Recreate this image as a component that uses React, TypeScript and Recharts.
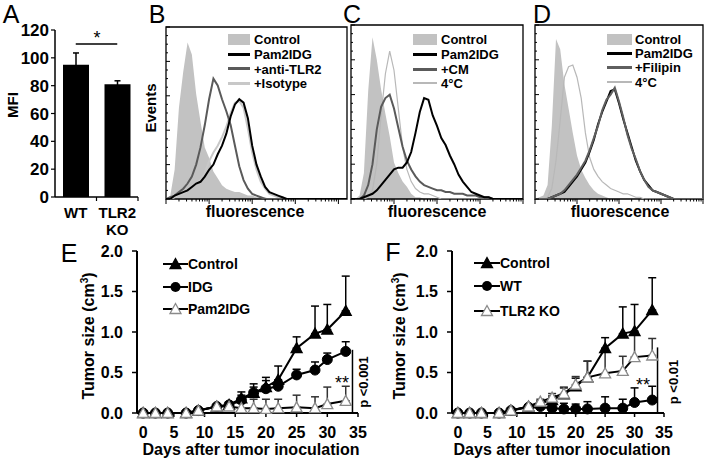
import React from "react";
import {
  BarChart,
  Bar,
  ComposedChart,
  Area,
  Line,
  LineChart,
  XAxis,
  YAxis,
  ErrorBar,
  ReferenceLine,
  ReferenceArea,
} from "recharts";

const FONT = "'Liberation Sans', Arial, Helvetica, sans-serif";

// ---- A: MFI bars
const mfiGroups = ["WT", "TLR2 KO"];
const mfiValues = [95, 81];
const mfiErrors = [8.5, 2.5];
const mfiTicks = [0, 20, 40, 60, 80, 100, 120];

// ---- B-D: flow histograms, x = log10 fluorescence, y = % of max events
const fluorBins = [
  0, 0.1, 0.2, 0.3, 0.4, 0.5, 0.6, 0.7, 0.8, 0.9, 1, 1.1, 1.2, 1.3, 1.4, 1.5, 1.6, 1.7, 1.8, 1.9, 2,
  2.1, 2.2, 2.3, 2.4, 2.5, 2.6, 2.7, 2.8, 2.9, 3, 3.1, 3.2, 3.3, 3.4, 3.5, 3.6, 3.7, 3.8, 3.9, 4, 4.1, 4.2,
];
const decadeStarts = [0, 1, 2, 3];
const logMinor = [0, 0.301, 0.477, 0.602, 0.699, 0.778, 0.845, 0.903, 0.954];
const eventTicks = [0, 5, 10, 15, 20, 25, 30, 35, 40, 45, 50, 55, 60, 65, 70, 75, 80, 85, 90, 95, 100];

const bControl = [0, 2, 17, 53, 74, 91, 84, 61, 45, 30, 24, 16, 12, 8, 6, 5, 4, 4, 3, 2, 2, 1, 1, 1, 0];
const bPam2 = [0, 0, 2, 3, 4, 5, 7, 9, 10, 13, 17, 20, 26, 31, 38, 48, 55, 58, 56, 47, 31, 20, 13, 7, 4, 3, 2, 1, 0];
const bAntiTlr2 = [0, 1, 2, 4, 6, 9, 13, 20, 30, 43, 58, 70, 66, 58, 51, 43, 31, 19, 11, 6, 3, 2, 1, 0];
const bIsotype = [0, 0, 1, 2, 3, 5, 7, 9, 11, 15, 22, 27, 31, 36, 42, 50, 56, 57, 53, 41, 27, 17, 10, 6, 3, 2, 1, 1, 0];

const cControl = [0, 0, 2, 15, 62, 93, 80, 63, 49, 36, 21, 15, 10, 7, 3, 1, 1, 0];
const cPam2 = [0, 0, 0, 1, 2, 3, 5, 8, 11, 14, 17, 18, 18, 21, 27, 38, 50, 58, 57, 48, 42, 35, 31, 25, 20, 14, 10, 7, 4, 3, 2, 1, 1, 0];
const cCm = [0, 0, 0, 2, 8, 20, 40, 53, 58, 60, 52, 41, 30, 22, 17, 13, 10, 8, 7, 6, 5, 5, 4, 4, 3, 3, 3, 2, 2, 2, 1, 1, 1, 0];
const c4C = [0, 0, 0, 0, 1, 5, 20, 48, 72, 85, 74, 52, 30, 17, 10, 6, 4, 3, 3, 2, 1, 0];

const dControl = [0, 1, 2, 8, 42, 92, 86, 66, 52, 38, 25, 17, 12, 8, 5, 3, 2, 1, 0];
const dPam2 = [0, 0, 0, 0, 1, 2, 3, 4, 7, 10, 13, 17, 21, 27, 34, 43, 50, 56, 62, 63, 55, 46, 38, 30, 22, 16, 11, 8, 5, 4, 3, 2, 1, 0];
const dFilipin = [0, 0, 0, 0, 1, 2, 3, 5, 8, 11, 14, 18, 22, 28, 35, 42, 51, 57, 60, 64, 56, 47, 37, 29, 23, 16, 11, 7, 5, 4, 3, 2, 1, 0];
const d4C = [0, 0, 0, 1, 6, 22, 45, 70, 76, 77, 70, 58, 38, 24, 17, 13, 10, 8, 6, 5, 4, 3, 3, 2, 1, 1, 0];

// ---- E/F: tumor growth
const tumorDays = [0, 2, 4, 7, 9, 12, 14, 16, 18, 20, 22, 25, 28, 30, 33];
const dayTicks = [0, 5, 10, 15, 20, 25, 30, 35];
const sizeTicks = [0, 0.5, 1, 1.5, 2];

const eControl = [0, 0, 0, 0, 0.03, 0.08, 0.1, 0.18, 0.25, 0.32, 0.41, 0.8, 0.98, 1.03, 1.26];
const eControlErr = [0, 0, 0, 0, 0.01, 0.02, 0.03, 0.08, 0.11, 0.12, 0.17, 0.14, 0.34, 0.31, 0.43];
const eIdg = [0, 0, 0, 0, 0.03, 0.08, 0.1, 0.16, 0.25, 0.3, 0.33, 0.47, 0.53, 0.66, 0.76];
const eIdgErr = [0, 0, 0, 0, 0.01, 0.02, 0.03, 0.06, 0.07, 0.1, 0.07, 0.07, 0.1, 0.08, 0.12];
const ePam2 = [0, 0, 0, 0, 0.03, 0.08, 0.08, 0.06, 0.06, 0.05, 0.06, 0.07, 0.06, 0.11, 0.15];
const ePam2Err = [0, 0, 0, 0, 0, 0.01, 0.02, 0.06, 0.11, 0.12, 0.11, 0.15, 0.14, 0.21, 0.18];

const fControl = [0, 0, 0, 0, 0.03, 0.08, 0.12, 0.16, 0.23, 0.33, 0.44, 0.8, 0.98, 1.01, 1.27];
const fControlErr = [0, 0, 0, 0, 0.01, 0.02, 0.03, 0.05, 0.08, 0.1, 0.2, 0.13, 0.33, 0.33, 0.4];
const fWt = [0, 0, 0, 0, 0.03, 0.07, 0.08, 0.06, 0.05, 0.05, 0.05, 0.06, 0.06, 0.13, 0.16];
const fWtErr = [0, 0, 0, 0, 0, 0.01, 0.03, 0.05, 0.07, 0.06, 0.09, 0.14, 0.11, 0.18, 0.17];
const fKo = [0, 0, 0, 0, 0.03, 0.08, 0.14, 0.19, 0.24, 0.35, 0.44, 0.49, 0.52, 0.69, 0.71];
const fKoErr = [0, 0, 0, 0, 0.01, 0.02, 0.03, 0.05, 0.08, 0.1, 0.2, 0.29, 0.18, 0.3, 0.21];

const mfiData = mfiGroups.map((g, i) => ({ group: g, mfi: mfiValues[i], err: mfiErrors[i] }));

const fluorTicks = [...decadeStarts.flatMap((d) => logMinor.map((m) => d + m)), 4];

function histRows(max: number, curves: Record<string, number[]>) {
  return fluorBins
    .filter((u) => u <= max + 1e-9)
    .map((u, i) => {
      const row: any = { u };
      Object.keys(curves).forEach((k) => (row[k] = curves[k][i] ?? 0));
      return row;
    });
}

function tumorRows(series: Record<string, number[]>) {
  return tumorDays.map((day, i) => {
    const row: any = { day };
    Object.keys(series).forEach((k) => {
      row[k] = series[k][i];
    });
    return row;
  });
}

const eRows = tumorRows({ control: eControl, idg: eIdg, pam2: ePam2 }).map((r, i) => ({
  ...r,
  controlErr: [0, eControlErr[i]],
  idgErr: [0, eIdgErr[i]],
  pam2Err: [0, ePam2Err[i]],
}));
const fRows = tumorRows({ control: fControl, wt: fWt, ko: fKo }).map((r, i) => ({
  ...r,
  controlErr: [0, fControlErr[i]],
  wtErr: [0, fWtErr[i]],
  koErr: [0, fKoErr[i]],
}));

// ---------- small helpers

const Txt = ({ x, y, children, size = 16, weight = 700, rotate = 0, anchor = "middle" }: any) => (
  <div
    style={{
      position: "absolute",
      left: x,
      top: y,
      transform: `translate(${anchor === "start" ? "0" : "-50%"}, -50%) rotate(${rotate}deg)`,
      fontSize: size,
      fontWeight: weight,
      lineHeight: 1,
      whiteSpace: "nowrap",
      fontFamily: FONT,
      color: "#000",
    }}
  >
    {children}
  </div>
);

const MfiTick = (props: any) => {
  const { x, y, payload, width, visibleTicksCount } = props;
  const half = (width ?? 83) / (visibleTicksCount ?? 2) / 2;
  const parts = String(payload.value).split(" ");
  return (
    <g>
      <line x1={x + half} x2={x + half} y1={y} y2={y + 4} stroke="#000" strokeWidth={1.2} />
      {parts.map((p, i) => (
        <text key={p} x={x} y={y + 21 + i * 17} textAnchor="middle" fontSize={15} fontWeight={700} fill="#000" fontFamily={FONT}>
          {p}
        </text>
      ))}
    </g>
  );
};

const LogTick = (props: any) => {
  const { x, y, payload } = props;
  const major = Math.abs(payload.value - Math.round(payload.value)) < 0.001;
  return <line x1={x} x2={x} y1={y} y2={y + (major ? 5 : 2.5)} stroke="#000" strokeWidth={1} />;
};

const EventTick = (props: any) => {
  const { x, y, payload } = props;
  const major = payload.value % 20 === 0;
  return <line x1={x} x2={x + (major ? 4 : 2)} y1={y} y2={y} stroke="#000" strokeWidth={1} />;
};

const triDot = (fill: string, stroke: string) => (p: any) => {
  const { cx, cy, key } = p;
  if (cx == null || cy == null) return <g key={key} />;
  return (
    <polygon
      key={key}
      points={`${cx},${cy - 5.5} ${cx - 5.5},${cy + 4.5} ${cx + 5.5},${cy + 4.5}`}
      fill={fill}
      stroke={stroke}
      strokeWidth={1.3}
    />
  );
};
const circleDot = (p: any) => {
  const { cx, cy, key } = p;
  if (cx == null || cy == null) return <g key={key} />;
  return <circle key={key} cx={cx} cy={cy} r={5} fill="#000" stroke="#000" />;
};

type FluorSeries = { key: string; color: string; width: number };

function FluorPanel({ left, width, plotLeft, plotTop, plotRight, xMax, rows, lines }: any) {
  return (
    <div style={{ position: "absolute", left, top: 0 }}>
      <ComposedChart
        width={width}
        height={210}
        data={rows}
        margin={{ top: plotTop, right: width - plotRight, bottom: 0, left: plotLeft - 1 }}
      >
        <XAxis
          type="number"
          dataKey="u"
          domain={[0, xMax]}
          ticks={fluorTicks}
          interval={0}
          height={11}
          tickSize={0}
          tickMargin={0}
          tickLine={false}
          axisLine={false}
          tick={<LogTick />}
          allowDataOverflow
        />
        <YAxis
          type="number"
          domain={[0, 100]}
          ticks={eventTicks}
          interval={0}
          width={1}
          tickSize={0}
          tickMargin={0}
          tickLine={false}
          axisLine={false}
          tick={<EventTick />}
          allowDataOverflow
        />
        <Area dataKey="control" type="linear" fill="#c2c2c2" fillOpacity={1} stroke="none" isAnimationActive={false} />
        {lines.map((s: FluorSeries) => (
          <Line
            key={s.key}
            dataKey={s.key}
            type="linear"
            stroke={s.color}
            strokeWidth={s.width}
            dot={false}
            activeDot={false}
            isAnimationActive={false}
          />
        ))}
        <ReferenceArea x1={0} x2={xMax} y1={0} y2={100} fill="none" stroke="#000" strokeWidth={1.3} ifOverflow="visible" />
      </ComposedChart>
    </div>
  );
}

function FluorLegend({ x, w, textX, rows, items }: any) {
  return (
    <>
      {items.map((it: any, i: number) => (
        <React.Fragment key={it.label}>
          <div
            style={{
              position: "absolute",
              left: x,
              top: rows[i] - it.h / 2,
              width: w,
              height: it.h,
              background: it.color,
            }}
          />
          <Txt x={textX} y={rows[i]} anchor="start" size={13}>
            {it.label}
          </Txt>
        </React.Fragment>
      ))}
    </>
  );
}

function SeriesLegend({ x, textX, rows, items }: any) {
  const w = textX - x;
  return (
    <>
      {items.map((it: any, i: number) => (
        <React.Fragment key={it.label}>
          <svg style={{ position: "absolute", left: x, top: rows[i] - 7 }} width={w} height={14}>
            <line x1={0} x2={w} y1={7} y2={7} stroke="#000" strokeWidth={2} />
            {it.marker === "circle" ? (
              <circle cx={w / 2} cy={7} r={5} fill="#000" />
            ) : (
              <polygon
                points={`${w / 2},${1.5} ${w / 2 - 5.5},${11.5} ${w / 2 + 5.5},${11.5}`}
                fill={it.marker === "triOpen" ? "#fff" : "#000"}
                stroke={it.marker === "triOpen" ? "#8a8a8a" : "#000"}
                strokeWidth={1.3}
              />
            )}
          </svg>
          <Txt x={textX} y={rows[i]} anchor="start" size={14}>
            {it.label}
          </Txt>
        </React.Fragment>
      ))}
    </>
  );
}

function TumorPanel({ left, width, axisWidth, plotRight, rows, series, bracket }: any) {
  const axisStyle = { stroke: "#000", strokeWidth: 2 };
  return (
    <div style={{ position: "absolute", left, top: 240 }}>
      <LineChart width={width} height={222} data={rows} margin={{ top: 11, right: width - plotRight, bottom: 0, left: 0 }}>
        <XAxis
          type="number"
          dataKey="day"
          domain={[-1, 35]}
          ticks={dayTicks}
          interval={0}
          height={49}
          tickSize={4}
          tickMargin={10}
          axisLine={axisStyle}
          tickLine={{ stroke: "#000", strokeWidth: 1.5 }}
          tick={{ fill: "#000", fontSize: 16, fontWeight: 700, fontFamily: FONT }}
        />
        <YAxis
          type="number"
          domain={[0, 2]}
          ticks={sizeTicks}
          interval={0}
          width={axisWidth}
          tickSize={5}
          tickMargin={9}
          tickFormatter={(v: number) => v.toFixed(1)}
          axisLine={axisStyle}
          tickLine={{ stroke: "#000", strokeWidth: 1.5 }}
          tick={{ fill: "#000", fontSize: 16, fontWeight: 700, fontFamily: FONT }}
        />
        <ReferenceLine segment={bracket} stroke="#000" strokeWidth={1.5} />
        {series.map((s: any) => (
          <Line
            key={s.key}
            dataKey={s.key}
            type="linear"
            stroke="#000"
            strokeWidth={2}
            dot={s.dot}
            activeDot={false}
            isAnimationActive={false}
          >
            <ErrorBar dataKey={s.key + "Err"} direction="y" width={4} stroke={s.errColor} strokeWidth={1.5} />
          </Line>
        ))}
      </LineChart>
    </div>
  );
}

export default function App() {
  const bRows = histRows(4.2, { control: bControl, iso: bIsotype, anti: bAntiTlr2, pam2: bPam2 });
  const cRows = histRows(4, { control: cControl, cold: c4C, cm: cCm, pam2: cPam2 });
  const dRows = histRows(4, { control: dControl, cold: d4C, pam2: dPam2, fil: dFilipin });

  return (
    <div
      style={{
        position: "absolute",
        left: 0,
        top: 0,
        width: 711,
        height: 462,
        background: "#fff",
        overflow: "hidden",
        fontFamily: FONT,
      }}
    >
      {/* A */}
      <div style={{ position: "absolute", left: 0, top: 0 }}>
        <BarChart width={145} height={240} data={mfiData} margin={{ top: 30, right: 7, bottom: 0, left: 0 }} barSize={26}>
          <XAxis
            dataKey="group"
            height={43}
            tickSize={0}
            tickMargin={0}
            tickLine={false}
            interval={0}
            axisLine={{ stroke: "#000", strokeWidth: 1.5 }}
            tick={<MfiTick />}
          />
          <YAxis
            width={55}
            domain={[0, 120]}
            ticks={mfiTicks}
            interval={0}
            tickSize={4}
            tickMargin={2}
            axisLine={{ stroke: "#000", strokeWidth: 1.5 }}
            tickLine={{ stroke: "#000", strokeWidth: 1.2 }}
            tick={{ fill: "#000", fontSize: 17, fontWeight: 700, fontFamily: FONT }}
          />
          <Bar dataKey="mfi" fill="#000" isAnimationActive={false}>
            <ErrorBar dataKey="err" direction="y" width={3} stroke="#000" strokeWidth={1.5} />
          </Bar>
          <ReferenceLine
            segment={[
              { x: "WT", y: 110 },
              { x: "TLR2 KO", y: 110 },
            ]}
            stroke="#000"
            strokeWidth={1.5}
          />
        </BarChart>
      </div>
      <Txt x={11} y={14} size={25} weight={400}>A</Txt>
      <Txt x={12} y={105} size={15} rotate={-90}>MFI</Txt>
      <Txt x={97} y={38} size={18} weight={400}>*</Txt>

      {/* B */}
      <FluorPanel
        left={140}
        width={215}
        plotLeft={26}
        plotTop={27}
        plotRight={207}
        xMax={4.2}
        rows={bRows}
        lines={[
          { key: "iso", color: "#c8c8c8", width: 2 },
          { key: "anti", color: "#5a5a5a", width: 2 },
          { key: "pam2", color: "#000", width: 2 },
        ]}
      />
      <FluorLegend
        x={228}
        w={22}
        textX={254}
        rows={[39, 54, 68.5, 83]}
        items={[
          { label: "Control", color: "#c2c2c2", h: 11 },
          { label: "Pam2IDG", color: "#000", h: 3 },
          { label: "+anti-TLR2", color: "#5a5a5a", h: 3 },
          { label: "+Isotype", color: "#c8c8c8", h: 3 },
        ]}
      />
      <Txt x={157} y={14} size={25} weight={400}>B</Txt>
      <Txt x={150} y={108} size={15} rotate={-90}>Events</Txt>
      <Txt x={255} y={212}>fluorescence</Txt>

      {/* C */}
      <FluorPanel
        left={345}
        width={185}
        plotLeft={6}
        plotTop={25}
        plotRight={178}
        xMax={4}
        rows={cRows}
        lines={[
          { key: "cold", color: "#b8b8b8", width: 1.2 },
          { key: "cm", color: "#5a5a5a", width: 2 },
          { key: "pam2", color: "#000", width: 2 },
        ]}
      />
      <FluorLegend
        x={413}
        w={24}
        textX={441}
        rows={[39, 54, 69, 83]}
        items={[
          { label: "Control", color: "#c2c2c2", h: 11 },
          { label: "Pam2IDG", color: "#000", h: 3 },
          { label: "+CM", color: "#5a5a5a", h: 3 },
          { label: "4°C", color: "#b8b8b8", h: 2 },
        ]}
      />
      <Txt x={352} y={14} size={25} weight={400}>C</Txt>
      <Txt x={437} y={212}>fluorescence</Txt>

      {/* D */}
      <FluorPanel
        left={530}
        width={181}
        plotLeft={5}
        plotTop={25}
        plotRight={173}
        xMax={4}
        rows={dRows}
        lines={[
          { key: "cold", color: "#b8b8b8", width: 1.2 },
          { key: "pam2", color: "#000", width: 2 },
          { key: "fil", color: "#5f5f5f", width: 2 },
        ]}
      />
      <FluorLegend
        x={607}
        w={25}
        textX={635}
        rows={[39, 53, 67, 82]}
        items={[
          { label: "Control", color: "#c2c2c2", h: 11 },
          { label: "Pam2IDG", color: "#000", h: 3 },
          { label: "+Filipin", color: "#5f5f5f", h: 3 },
          { label: "4°C", color: "#b8b8b8", h: 2 },
        ]}
      />
      <Txt x={542} y={14} size={25} weight={400}>D</Txt>
      <Txt x={620} y={212}>fluorescence</Txt>

      {/* E */}
      <TumorPanel
        left={50}
        width={330}
        axisWidth={87}
        plotRight={308}
        rows={eRows}
        bracket={[
          { x: 34.1, y: 0 },
          { x: 34.1, y: 0.78 },
        ]}
        series={[
          { key: "control", dot: triDot("#000", "#000"), errColor: "#000" },
          { key: "idg", dot: circleDot, errColor: "#000" },
          { key: "pam2", dot: triDot("#fff", "#8a8a8a"), errColor: "#333" },
        ]}
      />
      <SeriesLegend
        x={163}
        textX={188}
        rows={[264, 287, 309]}
        items={[
          { label: "Control", marker: "triFilled" },
          { label: "IDG", marker: "circle" },
          { label: "Pam2IDG", marker: "triOpen" },
        ]}
      />
      <Txt x={69} y={253} size={25} weight={400}>E</Txt>
      <Txt x={89} y={336} rotate={-90}>
        Tumor size (cm<sup style={{ fontSize: 10, verticalAlign: "6px", lineHeight: 0 }}>3</sup>)
      </Txt>
      <Txt x={251} y={450}>Days after tumor inoculation</Txt>
      <Txt x={342} y={383} size={18} weight={400}>**</Txt>
      <Txt x={363} y={382} size={13} rotate={-90}>p &lt;0.001</Txt>

      {/* F */}
      <TumorPanel
        left={365}
        width={330}
        axisWidth={87}
        plotRight={299}
        rows={fRows}
        bracket={[
          { x: 33.9, y: 0 },
          { x: 33.9, y: 0.81 },
        ]}
        series={[
          { key: "control", dot: triDot("#000", "#000"), errColor: "#000" },
          { key: "wt", dot: circleDot, errColor: "#000" },
          { key: "ko", dot: triDot("#fff", "#8a8a8a"), errColor: "#333" },
        ]}
      />
      <SeriesLegend
        x={474}
        textX={500}
        rows={[263, 286, 311]}
        items={[
          { label: "Control", marker: "triFilled" },
          { label: "WT", marker: "circle" },
          { label: "TLR2 KO", marker: "triOpen" },
        ]}
      />
      <Txt x={393} y={252} size={25} weight={400}>F</Txt>
      <Txt x={400} y={336} rotate={-90}>
        Tumor size (cm<sup style={{ fontSize: 10, verticalAlign: "6px", lineHeight: 0 }}>3</sup>)
      </Txt>
      <Txt x={562} y={450}>Days after tumor inoculation</Txt>
      <Txt x={643} y={385} size={18} weight={400}>**</Txt>
      <Txt x={673} y={382} size={13} rotate={-90}>p &lt;0.01</Txt>
    </div>
  );
}
